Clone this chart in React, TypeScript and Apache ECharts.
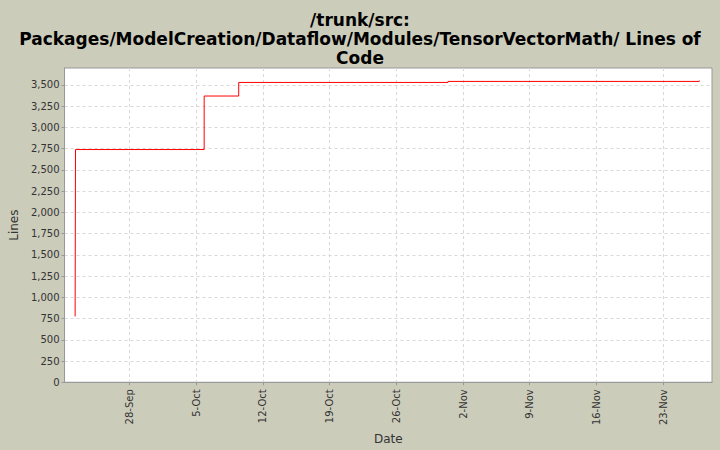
import React, { useEffect, useRef } from "react";
import * as echarts from "echarts";

const titleLines = [
  "/trunk/src:",
  "Packages/ModelCreation/Dataflow/Modules/TensorVectorMath/ Lines of",
  "Code",
];

// Change dates (UTC) and line counts
const changeDates = [
  "2008-09-22 07:00",
  "2008-09-22 08:00",
  "2008-10-05 20:00",
  "2008-10-09 11:00",
  "2008-10-31 10:00",
  "2008-11-26 19:00",
];
const lineCounts = [775, 2740, 3370, 3530, 3542, 3553];

const xTickDates = [
  "2008-09-28 00:00",
  "2008-10-05 00:00",
  "2008-10-12 00:00",
  "2008-10-19 00:00",
  "2008-10-26 00:00",
  "2008-11-02 00:00",
  "2008-11-09 00:00",
  "2008-11-16 00:00",
  "2008-11-23 00:00",
];
const xMinDate = "2008-09-21 04:20";
const xMaxDate = "2008-11-28 03:00";

const yTicks = [0, 250, 500, 750, 1000, 1250, 1500, 1750, 2000, 2250, 2500, 2750, 3000, 3250, 3500];
const yMax = 3700;

const MONTHS = ["Jan", "Feb", "Mar", "Apr", "May", "Jun", "Jul", "Aug", "Sep", "Oct", "Nov", "Dec"];

function parseUTC(s: string): number {
  const [d, t] = s.split(" ");
  const [y, m, day] = d.split("-").map(Number);
  const [hh, mm] = t.split(":").map(Number);
  return Date.UTC(y, m - 1, day, hh, mm);
}

function fmtDate(v: number): string {
  const d = new Date(v);
  return d.getUTCDate() + "-" + MONTHS[d.getUTCMonth()];
}

function fmtNum(v: number): string {
  return String(v).replace(/\B(?=(\d{3})+(?!\d))/g, ",");
}

export default function App() {
  const ref = useRef<HTMLDivElement>(null);
  useEffect(() => {
    if (!ref.current) return;
    const chart = echarts.init(ref.current, undefined, { renderer: "svg" });
    const font = "DejaVu Sans";
    const data = changeDates.map((d, i) => [parseUTC(d), lineCounts[i]]);
    const xTicks = xTickDates.map(parseUTC);
    chart.setOption({
      animation: false,
      backgroundColor: "#CCCCBB",
      title: {
        text: titleLines.join("\n"),
        left: "center",
        top: 5,
        textStyle: {
          fontFamily: font,
          fontWeight: "bold",
          fontSize: 17,
          lineHeight: 19,
          color: "#000",
        },
      },
      grid: {
        left: 62,
        top: 68,
        width: 650,
        height: 318,
        show: true,
        backgroundColor: "#ffffff",
        borderColor: "#999999",
        borderWidth: 1,
      },
      xAxis: {
        type: "value",
        min: parseUTC(xMinDate),
        max: parseUTC(xMaxDate),
        name: "Date",
        nameLocation: "middle",
        nameGap: 48,
        nameTextStyle: { fontFamily: font, fontSize: 12, color: "#333" },
        axisLine: { show: true, onZero: false, lineStyle: { color: "#999999" } },
        axisTick: {
          show: true,
          length: 3,
          customValues: xTicks,
          lineStyle: { color: "#999999" },
        },
        axisLabel: {
          customValues: xTicks,
          rotate: 90,
          margin: 7,
          fontFamily: font,
          fontSize: 10,
          color: "#333",
          formatter: (v: number) => fmtDate(v),
        },
        splitLine: {
          show: true,
          lineStyle: { color: "#d8d8d8", type: [3, 3], width: 1 },
        },
      },
      yAxis: {
        type: "value",
        min: 0,
        max: yMax,
        name: "Lines",
        nameLocation: "middle",
        nameGap: 42,
        nameTextStyle: { fontFamily: font, fontSize: 12, color: "#333" },
        axisLine: { show: true, lineStyle: { color: "#999999" } },
        axisTick: {
          show: true,
          length: 3,
          customValues: yTicks,
          lineStyle: { color: "#999999" },
        },
        axisLabel: {
          customValues: yTicks,
          margin: 5,
          fontFamily: font,
          fontSize: 10,
          color: "#333",
          formatter: (v: number) => fmtNum(v),
        },
        splitLine: {
          show: true,
          lineStyle: { color: "#d8d8d8", type: [3, 3], width: 1 },
        },
      },
      series: [
        {
          type: "line",
          step: "end",
          data,
          showSymbol: false,
          symbol: "none",
          lineStyle: { color: "#ff0000", width: 1 },
        },
      ],
    });
    return () => chart.dispose();
  }, []);
  return (
    <div
      ref={ref}
      style={{ position: "fixed", left: 0, top: 0, width: 720, height: 450 }}
    />
  );
}
